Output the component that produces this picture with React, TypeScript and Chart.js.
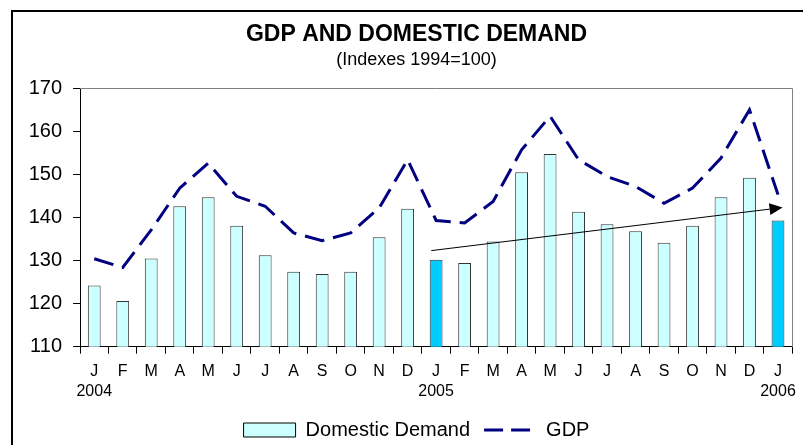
import React, { useEffect, useRef } from 'react';
import { Chart, registerables } from 'chart.js';

Chart.register(...registerables);

const FONT = "'Liberation Sans', Arial, Helvetica, sans-serif";

const months = ['J', 'F', 'M', 'A', 'M', 'J', 'J', 'A', 'S', 'O', 'N', 'D', 'J', 'F', 'M', 'A', 'M', 'J', 'J', 'A', 'S', 'O', 'N', 'D', 'J'];
const years = ['2004', '', '', '', '', '', '', '', '', '', '', '', '2005', '', '', '', '', '', '', '', '', '', '', '', '2006'];

const domesticDemand = [124.2, 120.6, 130.5, 142.6, 144.7, 138.1, 131.2, 127.4, 126.9, 127.4, 135.4, 142.0, 130.2, 129.4, 134.4, 150.5, 154.7, 141.3, 138.4, 136.8, 134.1, 138.1, 144.7, 149.2, 139.3];
const gdp = [130.4, 128.4, 137.1, 146.8, 152.6, 144.9, 142.6, 136.4, 134.6, 136.4, 142.2, 153.4, 139.3, 138.7, 143.7, 155.7, 163.5, 153.4, 149.5, 147.2, 143.3, 146.8, 153.8, 165.0, 145.3];
const highlightedIdx = [12, 24];

// trend arrow: [category position, value]
const trendStart = [11.83, 132.3];
const trendEnd = [24.16, 142.3];

const yMin = 110;
const yMax = 170;
const yStep = 10;

const BAR_FILL = '#CCFFFF';
const BAR_HIGHLIGHT = '#00CCFF';
const BAR_BORDER = '#333333';
const GDP_COLOR = '#000080';

const decorPlugin = {
  id: 'decor',
  afterDatasetsDraw(chart: any) {
    const { ctx, scales } = chart;
    const x = scales.x;
    const y = scales.y;
    const x1 = x.getPixelForValue(trendStart[0]);
    const y1 = y.getPixelForValue(trendStart[1]);
    const x2 = x.getPixelForValue(trendEnd[0]);
    const y2 = y.getPixelForValue(trendEnd[1]);
    const ang = Math.atan2(y2 - y1, x2 - x1);
    const headLen = 13;
    const headHalf = 6;
    const bx = x2 - headLen * Math.cos(ang);
    const by = y2 - headLen * Math.sin(ang);
    ctx.save();
    ctx.strokeStyle = '#000';
    ctx.lineWidth = 1;
    ctx.beginPath();
    ctx.moveTo(x1, y1);
    ctx.lineTo(bx, by);
    ctx.stroke();
    ctx.fillStyle = '#000';
    ctx.beginPath();
    ctx.moveTo(x2, y2);
    ctx.lineTo(bx + headHalf * Math.sin(ang), by - headHalf * Math.cos(ang));
    ctx.lineTo(bx - headHalf * Math.sin(ang), by + headHalf * Math.cos(ang));
    ctx.closePath();
    ctx.fill();
    ctx.restore();
  },
  afterDraw(chart: any) {
    const { ctx, chartArea } = chart;
    ctx.save();
    // plot frame top/right (gray)
    ctx.strokeStyle = '#808080';
    ctx.lineWidth = 1;
    ctx.beginPath();
    ctx.moveTo(Math.round(chartArea.left), Math.round(chartArea.top) + 0.5);
    ctx.lineTo(Math.round(chartArea.right) + 0.5, Math.round(chartArea.top) + 0.5);
    ctx.lineTo(Math.round(chartArea.right) + 0.5, Math.round(chartArea.bottom));
    ctx.stroke();
    // outer border (left/top)
    ctx.fillStyle = '#000';
    ctx.fillRect(11, 10, chart.width, 2);
    ctx.fillRect(11, 10, 2, chart.height);
    ctx.restore();
  },
};

export default function App() {
  const canvasRef = useRef<HTMLCanvasElement | null>(null);

  useEffect(() => {
    const canvas = canvasRef.current;
    if (!canvas) return;
    const labels = months.map((m, i) => [m, years[i]]);
    const barColors = domesticDemand.map((_, i) => (highlightedIdx.includes(i) ? BAR_HIGHLIGHT : BAR_FILL));

    const chart = new Chart(canvas, {
      type: 'bar',
      data: {
        labels,
        datasets: [
          {
            type: 'bar',
            label: 'Domestic Demand',
            data: domesticDemand,
            backgroundColor: barColors,
            borderColor: BAR_BORDER,
            borderWidth: 1,
            borderSkipped: false,
            barPercentage: 0.45,
            categoryPercentage: 1,
            order: 2,
          } as any,
          {
            type: 'line',
            label: 'GDP',
            data: gdp,
            borderColor: GDP_COLOR,
            backgroundColor: GDP_COLOR,
            borderWidth: 3,
            borderDash: [20, 9],
            pointRadius: 0,
            tension: 0,
            fill: false,
            order: 1,
          } as any,
        ],
      },
      options: {
        animation: false,
        responsive: false,
        maintainAspectRatio: false,
        layout: { padding: { left: 20, right: -10, top: 0, bottom: 0 } },
        plugins: {
          title: {
            display: true,
            text: 'GDP AND DOMESTIC DEMAND',
            color: '#000',
            font: { family: FONT, size: 23, weight: 'bold', lineHeight: 1.2 },
            padding: { top: 21, bottom: 1 },
          },
          subtitle: {
            display: true,
            text: '(Indexes 1994=100)',
            color: '#000',
            font: { family: FONT, size: 18, lineHeight: 1.2 },
            padding: { top: 0, bottom: 17 },
          },
          legend: {
            display: true,
            position: 'bottom',
            maxHeight: 39,
            labels: {
              usePointStyle: true,
              pointStyleWidth: 52,
              boxHeight: 14,
              padding: 14,
              color: '#000',
              font: { family: FONT, size: 20 },
              sort: (a: any, b: any) => a.datasetIndex - b.datasetIndex,
              generateLabels(chart: any) {
                const items = (Chart as any).defaults.plugins.legend.labels.generateLabels(chart);
                return items.map((it: any) => {
                  if (it.datasetIndex === 0) {
                    return { ...it, pointStyle: 'rect', fillStyle: BAR_FILL, strokeStyle: '#000', lineWidth: 1, lineDash: [] };
                  }
                  return { ...it, pointStyle: 'line', strokeStyle: GDP_COLOR, fillStyle: GDP_COLOR, lineWidth: 3, lineDash: [19, 8] };
                });
              },
            },
          },
          tooltip: { enabled: false },
        },
        scales: {
          x: {
            type: 'category',
            offset: true,
            grid: {
              offset: true,
              drawOnChartArea: false,
              drawTicks: true,
              tickLength: 7,
              color: '#000',
            },
            border: { display: true, color: '#000', width: 1 },
            ticks: {
              color: '#000',
              padding: 7,
              autoSkip: false,
              maxRotation: 0,
              font: { family: FONT, size: 16, lineHeight: 1.3 },
            },
            afterFit(scale: any) {
              scale.height = 59.3;
            },
          },
          y: {
            type: 'linear',
            position: 'left',
            min: yMin,
            max: yMax,
            grid: {
              drawOnChartArea: false,
              drawTicks: true,
              tickLength: 7,
              color: '#000',
            },
            border: { display: true, color: '#000', width: 1 },
            ticks: {
              stepSize: yStep,
              color: '#000',
              padding: 11,
              font: { family: FONT, size: 20 },
            },
            afterFit(scale: any) {
              scale.width = 60;
            },
          },
          yRightSpacer: {
            type: 'linear',
            position: 'right',
            display: true,
            grid: { display: false, drawTicks: false },
            border: { display: false },
            ticks: { display: false },
            afterFit(scale: any) {
              scale.width = 20;
            },
          },
        },
      } as any,
      plugins: [decorPlugin],
    });
    return () => chart.destroy();
  }, []);

  return (
    <div style={{ position: 'fixed', left: 0, top: 0, width: 803, height: 445, background: '#fff' }}>
      <canvas ref={canvasRef} width={803} height={445} style={{ display: 'block', width: 803, height: 445 }} />
    </div>
  );
}
